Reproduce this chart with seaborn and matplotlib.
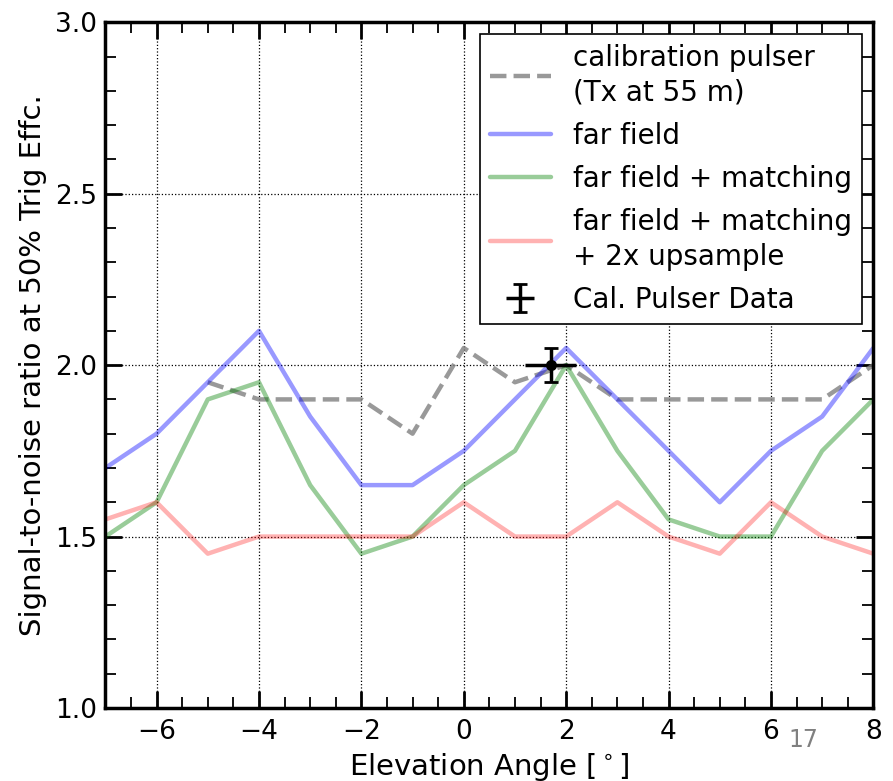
import numpy as np
import pandas as pd
import matplotlib
matplotlib.use("Agg")
import matplotlib.pyplot as plt
import seaborn as sns
from matplotlib.ticker import MultipleLocator
from matplotlib.legend_handler import HandlerErrorbar
from matplotlib.container import ErrorbarContainer
from matplotlib.lines import Line2D

sns.set_style("ticks")
plt.rcParams['font.family'] = ['DejaVu Sans']
for k in ['text.color', 'axes.labelcolor', 'xtick.color', 'ytick.color', 'axes.edgecolor']:
    plt.rcParams[k] = 'black'

angles = [-7, -6, -5, -4, -3, -2, -1, 0, 1, 2, 3, 4, 5, 6, 7, 8]
far_field = [1.70, 1.80, 1.95, 2.10, 1.85, 1.65, 1.65, 1.75, 1.90, 2.05, 1.90, 1.75, 1.60, 1.75, 1.85, 2.05]
far_match = [1.50, 1.60, 1.90, 1.95, 1.65, 1.45, 1.50, 1.65, 1.75, 2.00, 1.75, 1.55, 1.50, 1.50, 1.75, 1.90]
far_match_up = [1.55, 1.60, 1.45, 1.50, 1.50, 1.50, 1.50, 1.60, 1.50, 1.50, 1.60, 1.50, 1.45, 1.60, 1.50, 1.45]
cal_angles = [-5, -4, -3, -2, -1, 0, 1, 2, 3, 4, 5, 6, 7, 8]
cal_pulser = [1.95, 1.90, 1.90, 1.90, 1.80, 2.05, 1.95, 2.00, 1.90, 1.90, 1.90, 1.90, 1.90, 2.00]
data_x = [1.7]
data_y = [2.0]
data_xerr = [0.5]
data_yerr = [0.05]


class VCapHandler(HandlerErrorbar):
    def create_artists(self, *args, **kwargs):
        arts = super().create_artists(*args, **kwargs)
        for a in arts:
            if isinstance(a, Line2D) and a.get_marker() == '|':
                a.set_visible(False)
        return arts


fig = plt.figure(figsize=(8.93, 7.81), dpi=100)
ax = fig.add_axes([0.118, 0.0935, 0.86, 0.878])

lw = 3.2
sns.lineplot(x=cal_angles, y=cal_pulser, ax=ax, color='gray', linestyle='--', lw=lw,
             alpha=0.8, label='calibration pulser\n(Tx at 55 m)')
sns.lineplot(x=angles, y=far_field, ax=ax, color='blue', lw=lw, alpha=0.4, label='far field')
sns.lineplot(x=angles, y=far_match, ax=ax, color='green', lw=lw, alpha=0.4, label='far field + matching')
sns.lineplot(x=angles, y=far_match_up, ax=ax, color='red', lw=lw, alpha=0.3,
             label='far field + matching\n+ 2x upsample')
eb = ax.errorbar(data_x, data_y, xerr=data_xerr, yerr=data_yerr, fmt='none', ecolor='black',
                 elinewidth=2.5, capsize=5, capthick=2, label='Cal. Pulser Data', zorder=5)
ax.plot(data_x, data_y, 'o', color='black', ms=7, zorder=6)

ax.set_xlim(-7, 8)
ax.set_ylim(1.0, 3.0)
ax.xaxis.set_major_locator(MultipleLocator(2))
ax.xaxis.set_minor_locator(MultipleLocator(0.5))
ax.yaxis.set_major_locator(MultipleLocator(0.5))
ax.yaxis.set_minor_locator(MultipleLocator(0.1))
ax.tick_params(which='both', direction='in', top=True, right=True, labelsize=19)
ax.tick_params(which='major', length=12, width=2)
ax.tick_params(which='minor', length=8, width=1.3)
ax.tick_params(axis='x', which='major', pad=8)
ax.tick_params(axis='y', which='major', pad=6)
ax.grid(True, which='major', linestyle=':', color='black', lw=0.9)
for s in ax.spines.values():
    s.set_linewidth(2.5)
    s.set_color('black')

ax.set_xlabel('Elevation Angle [$^\\circ$]', fontsize=21, labelpad=4)
ax.set_ylabel('Signal-to-noise ratio at 50% Trig Effc.', fontsize=21, labelpad=6)

leg = ax.legend(loc='upper right', fontsize=20, frameon=True, fancybox=False,
                handlelength=2.2, borderpad=0.35, labelspacing=0.55, handletextpad=0.8,
                bbox_to_anchor=(0.985, 0.983), borderaxespad=0,
                handler_map={ErrorbarContainer: VCapHandler()})
for t in leg.get_texts():
    t.set_linespacing(1.3)
leg.get_frame().set_edgecolor('black')
leg.get_frame().set_linewidth(1.2)
leg.get_frame().set_alpha(1.0)

for cl in eb[1][:2]:
    cl.set_visible(False)

fig.text(0.90, 0.052, '17', color='gray', fontsize=17, ha='center', va='center')

fig.savefig('out.png', dpi=100)
